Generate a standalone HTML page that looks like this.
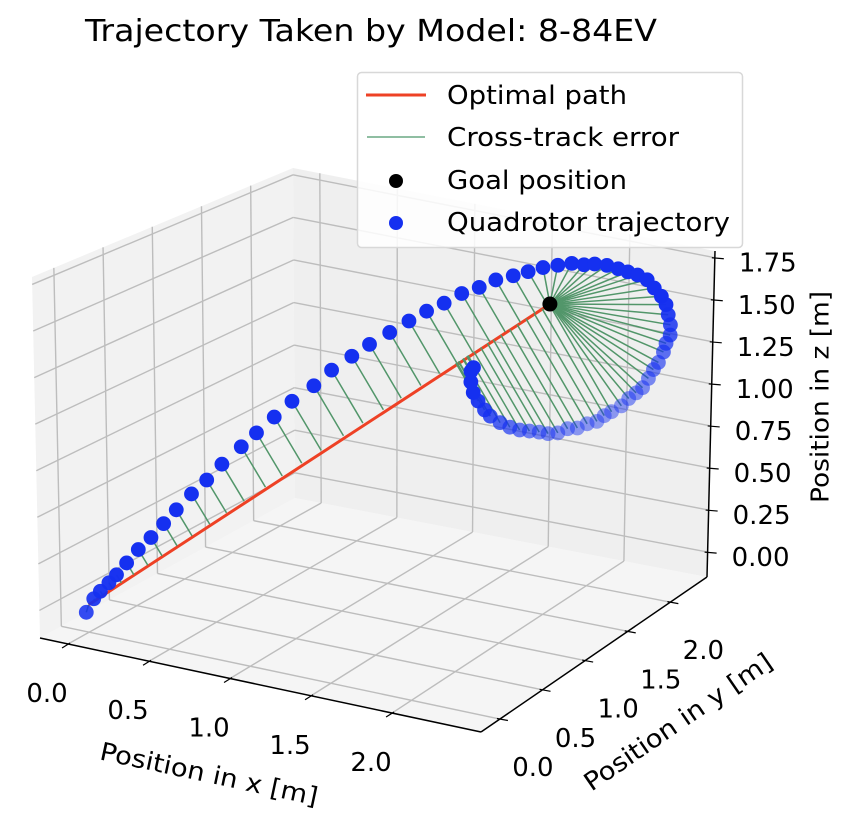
<!DOCTYPE html>
<html><head><meta charset="utf-8"><style>
html,body{margin:0;padding:0;background:#fff;}
svg{display:block;font-family:"DejaVu Sans","Liberation Sans",sans-serif;}
</style></head>
<body>
<svg id="chart" width="848" height="818" viewBox="0 0 848 818" xmlns="http://www.w3.org/2000/svg">
<text x="371" y="41" text-anchor="middle" font-size="30" textLength="572" lengthAdjust="spacingAndGlyphs" fill="#000">Trajectory Taken by Model: 8-84EV</text>
<g id="panes"></g><g id="grid"></g><g id="axes"></g><g id="marks"></g>
<g>
<rect x="357.5" y="72.5" width="385" height="175" rx="4" fill="#fff" fill-opacity="0.85" stroke="#d8d8d8" stroke-width="1.5"/>
<line x1="366" y1="95" x2="426" y2="95" stroke="#ee4125" stroke-width="3"/>
<text x="447" y="104" font-size="26" textLength="180" lengthAdjust="spacingAndGlyphs">Optimal path</text>
<line x1="367" y1="137" x2="425" y2="137" stroke="#6aa884" stroke-width="1.5"/>
<text x="447" y="146" font-size="26" textLength="232" lengthAdjust="spacingAndGlyphs">Cross-track error</text>
<circle cx="396" cy="181" r="7" fill="#000"/>
<text x="447" y="189" font-size="26" textLength="180" lengthAdjust="spacingAndGlyphs">Goal position</text>
<circle cx="396" cy="223" r="7" fill="#1530f0"/>
<text x="447" y="231" font-size="26" textLength="283" lengthAdjust="spacingAndGlyphs">Quadrotor trajectory</text>
</g>
</svg>
<script>
// ---- data ----
const trajX=[-0.01,0.02,0.05,0.08,0.11,0.15,0.20,0.25,0.30,0.35,0.41,0.47,0.53,0.61,0.67,0.74,0.81,0.90,0.97,1.05,1.12,1.20,1.28,1.35,1.42,1.49,1.56,1.63,1.70,1.76,1.82,1.88,1.94,1.99,2.03,2.08,2.13,2.17,2.21,2.25,2.28,2.31,2.33,2.34,2.35,2.35,2.33,2.32,2.30,2.28,2.26,2.24,2.21,2.18,2.15,2.11,2.08,2.05,2.01,1.97,1.93,1.89,1.85,1.81,1.77,1.73,1.69,1.65,1.61,1.59,1.56,1.54,1.53,1.53,1.54];
const trajY=[-0.01,0.02,0.04,0.08,0.11,0.15,0.19,0.24,0.29,0.34,0.40,0.46,0.52,0.59,0.65,0.72,0.79,0.87,0.94,1.02,1.09,1.17,1.24,1.31,1.38,1.45,1.52,1.58,1.65,1.71,1.77,1.83,1.88,1.93,1.98,2.03,2.07,2.11,2.15,2.19,2.22,2.25,2.27,2.28,2.29,2.29,2.28,2.27,2.25,2.23,2.21,2.18,2.16,2.13,2.10,2.06,2.03,2.00,1.96,1.92,1.88,1.84,1.80,1.77,1.73,1.69,1.65,1.61,1.57,1.54,1.52,1.50,1.49,1.49,1.50];
const trajZ=[-0.04,0.03,0.07,0.11,0.15,0.21,0.28,0.34,0.41,0.48,0.56,0.63,0.71,0.80,0.87,0.95,1.03,1.11,1.19,1.26,1.32,1.38,1.44,1.49,1.53,1.58,1.61,1.65,1.67,1.69,1.71,1.72,1.73,1.72,1.72,1.71,1.69,1.67,1.65,1.62,1.57,1.52,1.47,1.41,1.35,1.29,1.24,1.19,1.13,1.09,1.04,0.99,0.96,0.93,0.89,0.86,0.84,0.81,0.80,0.78,0.78,0.76,0.76,0.77,0.78,0.79,0.81,0.84,0.88,0.92,0.97,1.02,1.08,1.14,1.16];
const pathStart=[0,0,0];
const goalPos=[1.85,1.8,1.5];
const xTicks=[0,0.5,1,1.5,2];
const yTicks=[0,0.5,1,1.5,2];
const zTicks=[0,0.25,0.5,0.75,1,1.25,1.5,1.75];
const xTickLabels=["0.0","0.5","1.0","1.5","2.0"];
const yTickLabels=["0.0","0.5","1.0","1.5","2.0"];
const zTickLabels=["0.00","0.25","0.50","0.75","1.00","1.25","1.50","1.75"];

// ---- axes geometry ----
const XL=[-0.173,2.549], YL=[-0.222,2.43], ZL=[-0.148,1.79];
const C={c000:[40,638],c100:[481,732],c010:[295,498],c110:[707,577],
         c001:[32,277],c101:[488,347],c011:[293,168],c111:[715,251]};
function lerp(a,b,t){return [a[0]+(b[0]-a[0])*t,a[1]+(b[1]-a[1])*t];}
function proj(x,y,z){
  const u=(x-XL[0])/(XL[1]-XL[0]), v=(y-YL[0])/(YL[1]-YL[0]), w=(z-ZL[0])/(ZL[1]-ZL[0]);
  const b=lerp(lerp(C.c000,C.c100,u),lerp(C.c010,C.c110,u),v);
  const t=lerp(lerp(C.c001,C.c101,u),lerp(C.c011,C.c111,u),v);
  return lerp(b,t,w);
}
const NS="http://www.w3.org/2000/svg";
function mk(tag,attrs,parent){const e=document.createElementNS(NS,tag);for(const k in attrs)e.setAttribute(k,attrs[k]);parent.appendChild(e);return e;}
function pts(arr){return arr.map(p=>p[0].toFixed(1)+","+p[1].toFixed(1)).join(" ");}
const panes=document.getElementById('panes'),grid=document.getElementById('grid'),axes=document.getElementById('axes'),marks=document.getElementById('marks');

let e;
e=mk('polygon',{points:pts([proj(XL[0],YL[0],ZL[0]),proj(XL[1],YL[0],ZL[0]),proj(XL[1],YL[1],ZL[0]),proj(XL[0],YL[1],ZL[0])]),fill:'#f5f5f5'},panes);


e=mk('polygon',{points:pts([proj(XL[0],YL[0],ZL[0]),proj(XL[0],YL[1],ZL[0]),proj(XL[0],YL[1],ZL[1]),proj(XL[0],YL[0],ZL[1])]),fill:'#f2f2f2'},panes);


e=mk('polygon',{points:pts([proj(XL[0],YL[1],ZL[0]),proj(XL[1],YL[1],ZL[0]),proj(XL[1],YL[1],ZL[1]),proj(XL[0],YL[1],ZL[1])]),fill:'#efefef'},panes);



function gline(a,b,name){
  const l=mk('line',{x1:a[0],y1:a[1],x2:b[0],y2:b[1],stroke:'#bdbdbd','stroke-width':1.4},grid);
  
  
}
xTicks.forEach(x=>{gline(proj(x,YL[0],ZL[0]),proj(x,YL[1],ZL[0]),'x-grid-floor');gline(proj(x,YL[1],ZL[0]),proj(x,YL[1],ZL[1]),'x-grid-wall');});
yTicks.forEach(y=>{gline(proj(XL[0],y,ZL[0]),proj(XL[1],y,ZL[0]),'y-grid-floor');gline(proj(XL[0],y,ZL[0]),proj(XL[0],y,ZL[1]),'y-grid-wall');});
zTicks.forEach(z=>{gline(proj(XL[0],YL[1],z),proj(XL[1],YL[1],z),'z-grid-back');gline(proj(XL[0],YL[0],z),proj(XL[0],YL[1],z),'z-grid-left');});

function aline(a,b,name,w){
  const l=mk('line',{x1:a[0],y1:a[1],x2:b[0],y2:b[1],stroke:'#000','stroke-width':w||1.5},axes);
  
  
}
aline(proj(XL[0],YL[0],ZL[0]),proj(XL[1],YL[0],ZL[0]),'x-axis-line');
aline(proj(XL[1],YL[0],ZL[0]),proj(XL[1],YL[1],ZL[0]),'y-axis-line');
aline(proj(XL[1],YL[1],ZL[0]),proj(XL[1],YL[1],ZL[1]),'z-axis-line');
function tlabel(txt,x,y,anchor,name){
  const t=mk('text',{x:x,y:y,'text-anchor':anchor,'dominant-baseline':'central','font-size':26,fill:'#000'},axes);
  t.textContent=txt;
  
  
}
xTicks.forEach((x,i)=>{const p=proj(x,YL[0],ZL[0]);aline([p[0]+2,p[1]-1],[p[0]-6,p[1]+4],'x-tick',1.2);tlabel(xTickLabels[i],p[0]-21,p[1]+50,'middle','x-tick-label');});
yTicks.forEach((y,i)=>{const p=proj(XL[1],y,ZL[0]);aline([p[0]-3,p[1]-0.5],[p[0]+8,p[1]+1.5],'y-tick',1.2);tlabel(yTickLabels[i],p[0]+33,p[1]+49,'middle','y-tick-label');});
zTicks.forEach((z,i)=>{const p=proj(XL[1],YL[1],z);aline([p[0]-3,p[1]],[p[0]+9,p[1]+1],'z-tick',1.2);tlabel(zTickLabels[i],p[0]+24,p[1]+6,'start','z-tick-label');});

function alabel(txt,cx,cy,rot,len,name){
  const t=mk('text',{x:cx,y:cy,'text-anchor':'middle','dominant-baseline':'central','font-size':25,fill:'#000',transform:`rotate(${rot} ${cx} ${cy})`,textLength:len,lengthAdjust:'spacingAndGlyphs'},axes);
  t.textContent=txt;
  
  
}
alabel('Position in x [m]',209,774,12,222,'x-axis-title');
alabel('Position in y [m]',678,722,-34.5,222,'y-axis-title');
alabel('Position in z [m]',820,397,-90,212,'z-axis-title');

// ---- marks ----
const s=proj(pathStart[0],pathStart[1],pathStart[2]),g=proj(goalPos[0],goalPos[1],goalPos[2]);
e=mk('line',{x1:s[0],y1:s[1],x2:g[0],y2:g[1],stroke:'#ee4125','stroke-width':3},marks);


const d=[goalPos[0]-pathStart[0],goalPos[1]-pathStart[1],goalPos[2]-pathStart[2]];
const dd=d[0]*d[0]+d[1]*d[1]+d[2]*d[2];
trajX.forEach((x,i)=>{
  const y=trajY[i],z=trajZ[i];
  let t=((x-pathStart[0])*d[0]+(y-pathStart[1])*d[1]+(z-pathStart[2])*d[2])/dd;
  t=Math.max(0,Math.min(1,t));
  const f=proj(pathStart[0]+t*d[0],pathStart[1]+t*d[1],pathStart[2]+t*d[2]);
  const p=proj(x,y,z);
  const l=mk('line',{x1:p[0],y1:p[1],x2:f[0],y2:f[1],stroke:'#52966a','stroke-width':1.5},marks);
  
  
});
e=mk('circle',{cx:g[0],cy:g[1],r:7.5,fill:'#000'},marks);


const depth=trajX.map((x,i)=>0.433*x-0.75*trajY[i]+0.5*trajZ[i]);
const dmin=Math.min(...depth),dmax=Math.max(...depth);
trajX.forEach((x,i)=>{
  const p=proj(x,trajY[i],trajZ[i]);
  const n=(depth[i]-dmin)/(dmax-dmin);
  const a=Math.min(1,0.45+1.2*n);
  const c=mk('circle',{cx:p[0],cy:p[1],r:7.4,fill:'#1530f0','fill-opacity':a},marks);
  
  
});
</script>
</body></html>
